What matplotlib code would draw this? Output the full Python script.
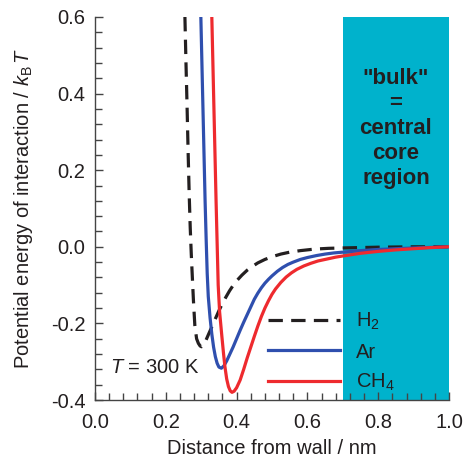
import matplotlib
matplotlib.use("Agg")
import matplotlib.pyplot as plt

plt.rcParams['font.family'] = ['Liberation Sans', 'DejaVu Sans']
plt.rcParams['mathtext.fontset'] = 'custom'
plt.rcParams['mathtext.rm'] = 'Liberation Sans'
plt.rcParams['mathtext.it'] = 'Liberation Sans:italic'
plt.rcParams['mathtext.bf'] = 'Liberation Sans:bold'

# Wall potential profiles (distance in nm, energy in units of k_B T)
h2_x = [0.254, 0.257, 0.260, 0.263, 0.266, 0.269, 0.272, 0.275, 0.278, 0.282,
        0.287, 0.292, 0.297, 0.301, 0.306, 0.312, 0.320, 0.330, 0.340, 0.350,
        0.360, 0.370, 0.380, 0.390, 0.400, 0.415, 0.430, 0.445, 0.460, 0.480,
        0.500, 0.525, 0.550, 0.580, 0.620, 0.660, 0.700, 0.800, 0.900, 1.000]
h2_y = [0.60, 0.48, 0.37, 0.25, 0.14, 0.05, -0.02, -0.08, -0.139, -0.205,
        -0.240, -0.252, -0.259, -0.261, -0.257, -0.247, -0.230, -0.209, -0.188, -0.167,
        -0.148, -0.131, -0.115, -0.101, -0.089, -0.074, -0.061, -0.051, -0.042, -0.033,
        -0.026, -0.019, -0.014, -0.010, -0.006, -0.004, -0.003, -0.001, 0.000, 0.000]

ar_x = [0.299, 0.302, 0.305, 0.308, 0.311, 0.314, 0.317, 0.320, 0.325, 0.330,
        0.335, 0.340, 0.345, 0.350, 0.357, 0.364, 0.372, 0.380, 0.390, 0.400,
        0.410, 0.420, 0.430, 0.440, 0.450, 0.460, 0.470, 0.480, 0.490, 0.500,
        0.515, 0.530, 0.545, 0.560, 0.580, 0.600, 0.625, 0.650, 0.675, 0.700,
        0.750, 0.800, 0.850, 0.900, 0.950, 1.000]
ar_y = [0.60, 0.48, 0.36, 0.24, 0.12, 0.02, -0.07, -0.13, -0.185, -0.228,
        -0.262, -0.287, -0.304, -0.314, -0.317, -0.311, -0.298, -0.282, -0.262, -0.240,
        -0.218, -0.197, -0.177, -0.157, -0.137, -0.121, -0.107, -0.095, -0.085, -0.076,
        -0.064, -0.054, -0.046, -0.040, -0.033, -0.028, -0.023, -0.019, -0.016, -0.014,
        -0.010, -0.007, -0.005, -0.003, -0.0015, 0.000]

ch4_x = [0.330, 0.333, 0.336, 0.339, 0.342, 0.345, 0.348, 0.352, 0.358, 0.363,
         0.367, 0.372, 0.377, 0.382, 0.387, 0.393, 0.400, 0.410, 0.420, 0.430,
         0.440, 0.450, 0.460, 0.470, 0.480, 0.490, 0.500, 0.510, 0.525, 0.540,
         0.555, 0.570, 0.590, 0.610, 0.630, 0.655, 0.680, 0.700, 0.750, 0.800,
         0.850, 0.900, 0.950, 1.000]
ch4_y = [0.60, 0.48, 0.36, 0.24, 0.12, 0.01, -0.10, -0.17, -0.230, -0.278,
         -0.313, -0.345, -0.365, -0.376, -0.380, -0.377, -0.368, -0.348, -0.320, -0.290,
         -0.262, -0.234, -0.207, -0.182, -0.160, -0.141, -0.124, -0.110, -0.093, -0.079,
         -0.068, -0.059, -0.050, -0.043, -0.037, -0.032, -0.027, -0.024, -0.017, -0.012,
         -0.008, -0.005, -0.002, 0.000]

bulk_start, bulk_end = 0.7, 1.0

BLUE = '#2f4fae'
RED = '#ee2a2e'
CYAN = '#00b2cc'
INK = '#231f20'
FS = 14.5

fig = plt.figure(figsize=(4.64, 4.61), dpi=100)
ax = fig.add_axes([95 / 464, 1 - 400 / 461, 354 / 464, 383 / 461])

ax.axvspan(bulk_start, bulk_end, color=CYAN, lw=0, zorder=0)

ax.plot(h2_x, h2_y, color=INK, lw=2.3, dashes=(4.5, 2.6), label='H$_2$', zorder=3)
ax.plot(ar_x, ar_y, color=BLUE, lw=2.3, label='Ar', zorder=4)
ax.plot(ch4_x, ch4_y, color=RED, lw=2.3, label='CH$_4$', zorder=5)

ax.set_xlim(0.0, 1.0)
ax.set_ylim(-0.4, 0.6)
ax.set_xticks([0.0, 0.2, 0.4, 0.6, 0.8, 1.0])
ax.set_yticks([-0.4, -0.2, 0.0, 0.2, 0.4, 0.6])
ax.set_xticklabels(['0.0', '0.2', '0.4', '0.6', '0.8', '1.0'])
ax.set_yticklabels(['-0.4', '-0.2', '0.0', '0.2', '0.4', '0.6'])
ax.xaxis.set_minor_locator(matplotlib.ticker.MultipleLocator(0.04))
ax.yaxis.set_minor_locator(matplotlib.ticker.MultipleLocator(0.04))

for s in ['top', 'right']:
    ax.spines[s].set_visible(False)
for s in ['left', 'bottom']:
    ax.spines[s].set_color('#444444')
    ax.spines[s].set_linewidth(1.0)

ax.tick_params(which='both', direction='in', color='#444444', width=1.0,
               labelcolor=INK, labelsize=FS)
ax.tick_params(which='major', length=6)
ax.tick_params(which='minor', length=5)
ax.tick_params(axis='y', pad=7)
ax.tick_params(axis='x', pad=9)

ax.set_xlabel('Distance from wall / nm', fontsize=FS, color=INK)
ax.set_ylabel('Potential energy of interaction / $k_\\mathrm{B}\\,T$', fontsize=FS, color=INK)
ax.xaxis.set_label_coords(0.5, -0.103)
ax.yaxis.set_label_coords(-0.17, 0.5)

ax.text(0.85, 0.31, '"bulk"\n=\ncentral\ncore\nregion', ha='center', va='center',
        fontsize=16, fontweight='bold', color=INK, linespacing=1.25)

ax.text(0.043, -0.314, '$T$ = 300 K', ha='left', va='center', fontsize=FS, color=INK)

leg = ax.legend(loc='upper left', bbox_to_anchor=(0.49, 0.232), frameon=False,
                fontsize=FS, handlelength=3.53, handletextpad=0.8,
                labelspacing=0.5, borderpad=0, borderaxespad=0)
for t in leg.get_texts():
    t.set_color(INK)

fig.savefig('out.png', dpi=100)
